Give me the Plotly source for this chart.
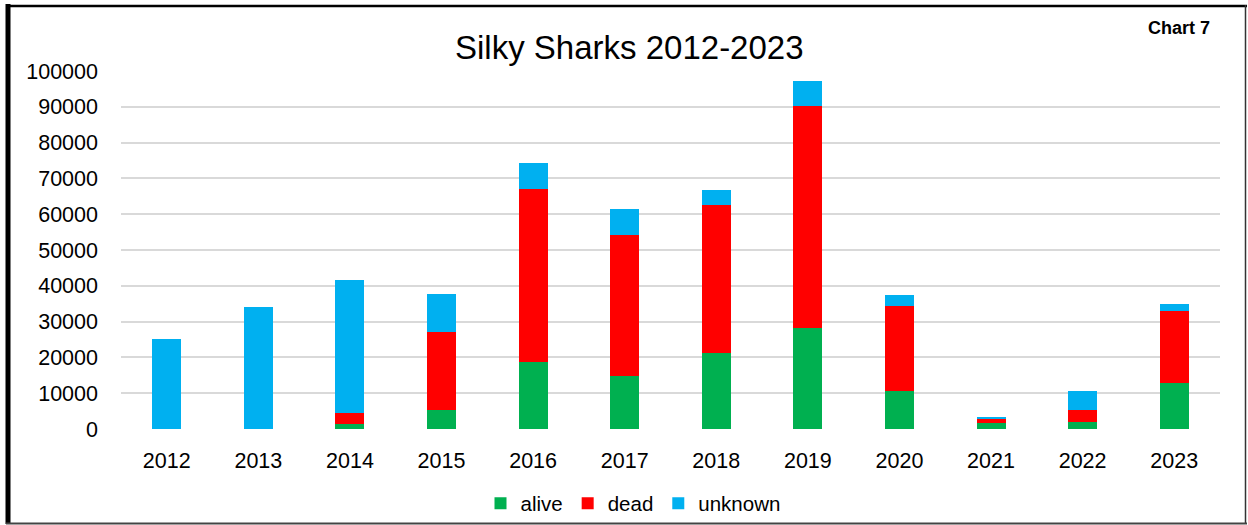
import plotly.graph_objects as go

# Silky shark counts by year and condition
years = ["2012", "2013", "2014", "2015", "2016", "2017", "2018", "2019", "2020", "2021", "2022", "2023"]
alive = [0, 0, 1300, 5300, 18600, 14900, 21100, 28200, 10500, 1700, 2000, 12800]
dead = [100, 100, 3300, 21800, 48400, 39400, 41600, 61900, 23900, 1100, 3300, 20200]
unknown = [25100, 33900, 37100, 10600, 7200, 7200, 4100, 7000, 3000, 500, 5200, 1900]

series_names = ["alive", "dead", "unknown"]
series_colors = ["#00B050", "#FF0000", "#00B0F0"]
y_ticks = list(range(0, 100001, 10000))

W, H = 1248, 525
L, R, T, B = 121, 28, 71, 96
PW, PH = W - L - R, H - T - B


def px_x(x):
    return (x - L) / PW


def px_y(y):
    return (H - B - y) / PH


FONT = "Liberation Sans, Arial, sans-serif"

fig = go.Figure()
for name, vals, col in zip(series_names, [alive, dead, unknown], series_colors):
    fig.add_trace(go.Bar(
        x=years, y=vals, name=name,
        marker=dict(color=col, line=dict(width=0)),
    ))

# outer frame
frame = [
    (px_x(8), px_y(4), px_x(8), px_y(524), "#000000", 5),
    (px_x(6), px_y(6), px_x(1247), px_y(6), "#000000", 2.5),
    (px_x(1245.5), px_y(5), px_x(1245.5), px_y(524), "#333333", 1.5),
    (px_x(6), px_y(523.5), px_x(1247), px_y(523.5), "#444444", 2),
]
shapes = [
    dict(type="line", xref="paper", yref="paper", x0=a, y0=b, x1=c, y1=d,
         line=dict(color=col, width=w), layer="above")
    for a, b, c, d, col, w in frame
]

fig.update_layout(
    width=W, height=H,
    margin=dict(l=L, r=R, t=T, b=B, pad=0, autoexpand=False),
    paper_bgcolor="white", plot_bgcolor="white",
    barmode="stack", bargap=0.683,
    font=dict(family=FONT, size=21, color="#000000"),
    xaxis=dict(
        type="category", showgrid=False, showline=False, zeroline=False,
        ticks="", ticklabelstandoff=16, tickfont=dict(size=21.5),
    ),
    yaxis=dict(
        range=[0, 100000], tickvals=y_ticks, ticktext=[str(v) for v in y_ticks],
        showgrid=True, gridcolor="#D9D9D9", gridwidth=1.5,
        zeroline=False, showline=False, ticks="",
        ticklabelstandoff=22, tickfont=dict(size=21.5),
    ),
    legend=dict(
        orientation="h", x=px_x(633), xanchor="center", y=px_y(503.5), yanchor="middle",
        font=dict(size=20.5), traceorder="normal", itemwidth=30, tracegroupgap=0,
        bgcolor="rgba(0,0,0,0)",
    ),
    shapes=shapes,
    annotations=[
        dict(text="Silky Sharks 2012-2023", xref="paper", yref="paper",
             x=px_x(629), y=px_y(47), xanchor="center", yanchor="middle",
             showarrow=False, font=dict(size=33, family=FONT, color="#000000")),
        dict(text="<b>Chart 7</b>", xref="paper", yref="paper",
             x=px_x(1212), y=px_y(28), xanchor="right", yanchor="middle",
             showarrow=False, font=dict(size=18, family=FONT, color="#000000")),
    ],
)

fig.write_html("out.html")
